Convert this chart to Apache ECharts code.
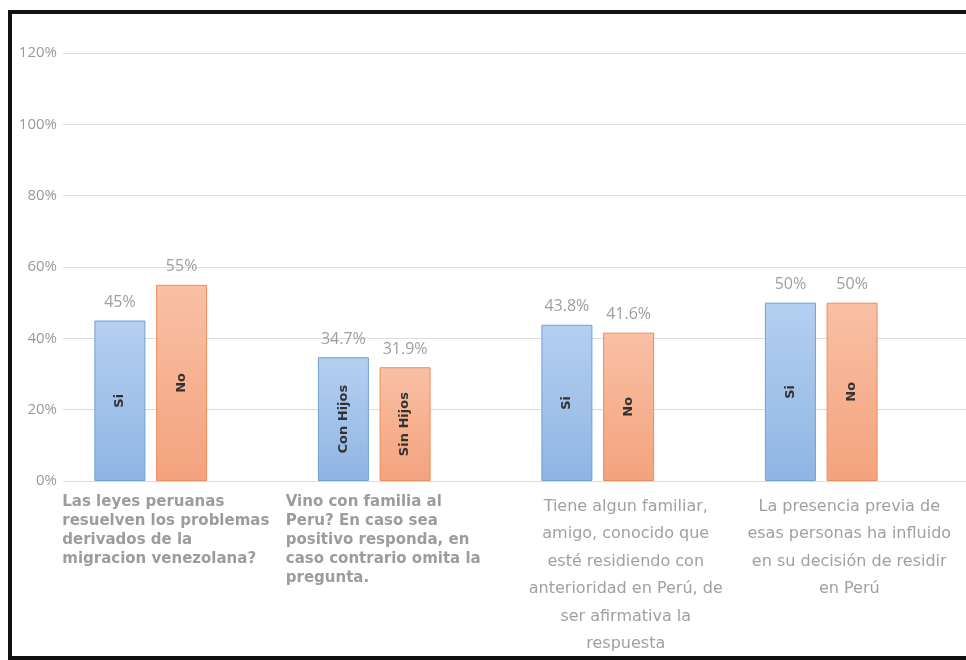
<!DOCTYPE html>
<html>
<head>
<meta charset="utf-8">
<script src="https://cdn.jsdelivr.net/npm/echarts@6/dist/echarts.min.js"></script>
<style>
html, body { margin: 0; padding: 0; background: #fff; }
#chart { width: 966px; height: 660px; }
</style>
</head>
<body>
<div id="chart"></div>
<script>
// preguntas de la encuesta
var preguntas = [
    'Las leyes peruanas\nresuelven los problemas\nderivados de la\nmigracion venezolana?',
    'Vino con familia al\nPeru? En caso sea\npositivo responda, en\ncaso contrario omita la\npregunta.',
    'Tiene algun familiar,\namigo, conocido que\nesté residiendo con\nanterioridad en Perú, de\nser afirmativa la\nrespuesta',
    'La presencia previa de\nesas personas ha influido\nen su decisión de residir\nen Perú'
];
// respuestas (%)
var valoresSi = [45, 34.7, 43.8, 50];
var valoresNo = [55, 31.9, 41.6, 50];
// nombre dentro de cada barra
var nombresSi = ['Si', 'Con Hijos', 'Si', 'Si'];
var nombresNo = ['No', 'Sin Hijos', 'No', 'No'];
// eje y
var ejeMin = 0, ejeMax = 120, ejePaso = 20;

var myChart = echarts.init(document.getElementById('chart'));

function degradado(arriba, abajo) {
    return new echarts.graphic.LinearGradient(0, 0, 0, 1, [
        {offset: 0, color: arriba},
        {offset: 1, color: abajo}
    ]);
}

var estiloSi = {color: degradado('#b5cff0', '#8fb5e4'), borderColor: '#6e9fda', borderWidth: 1};
var estiloNo = {color: degradado('#f9c0a5', '#f4a27d'), borderColor: '#ee8b5b', borderWidth: 1};

var etiquetaArriba = {
    show: true,
    position: 'top',
    distance: 10,
    color: '#9e9e9e',
    fontFamily: 'Open Sans',
    fontSize: 16,
    formatter: function (p) { return p.value + '%'; }
};

function etiquetaDentro(nombres) {
    return {
        show: true,
        position: 'inside',
        rotate: 90,
        color: '#333',
        fontFamily: 'DejaVu Sans',
        fontWeight: 'bold',
        fontSize: 13,
        formatter: function (p) { return nombres[p.dataIndex]; }
    };
}

myChart.setOption({
    animation: false,
    grid: [
        {left: 39, right: 33, top: 53, bottom: 179},
        {left: 63, right: 0, top: 53, bottom: 179}
    ],
    xAxis: [
        {
            type: 'category',
            gridIndex: 0,
            data: preguntas,
            axisLine: {show: false},
            axisTick: {show: false},
            axisLabel: {
                interval: 0,
                margin: 12,
                formatter: function (v, i) {
                    var s = i < 2 ? 'a' : 'b';
                    return v.split('\n').map(function (l) { return '{' + s + '|' + l + '}'; }).join('\n');
                },
                rich: {
                    a: {
                        width: 217, align: 'left', padding: [0, 0, 0, 40],
                        fontFamily: 'DejaVu Sans', fontWeight: 'bold', fontSize: 15,
                        lineHeight: 19, color: '#9c9c9c'
                    },
                    b: {
                        width: 217, align: 'center', padding: [0, 0, 0, 56],
                        fontFamily: 'DejaVu Sans', fontSize: 16,
                        lineHeight: 27.5, color: '#a0a0a0'
                    }
                }
            }
        },
        {
            type: 'category',
            gridIndex: 0,
            data: preguntas,
            show: false
        },
        {
            type: 'category',
            gridIndex: 1,
            data: preguntas,
            show: false
        }
    ],
    yAxis: [
        {
            type: 'value',
            gridIndex: 0,
            min: ejeMin,
            max: ejeMax,
            interval: ejePaso,
            show: false
        },
        {
            type: 'value',
            gridIndex: 1,
            min: ejeMin,
            max: ejeMax,
            interval: ejePaso,
            axisLine: {show: false},
            axisTick: {show: false},
            axisLabel: {
                margin: 6,
                color: '#9a9a9a',
                fontFamily: 'Open Sans',
                fontSize: 15,
                formatter: '{value}%'
            },
            splitLine: {lineStyle: {color: '#dcdcdc', width: 1}}
        }
    ],
    series: [
        {
            name: 'Si',
            type: 'bar',
            xAxisIndex: 0,
            yAxisIndex: 0,
            data: valoresSi,
            barWidth: 51,
            barGap: '21%',
            itemStyle: estiloSi,
            label: etiquetaArriba
        },
        {
            name: 'No',
            type: 'bar',
            xAxisIndex: 0,
            yAxisIndex: 0,
            data: valoresNo,
            barWidth: 51,
            barGap: '21%',
            itemStyle: estiloNo,
            label: etiquetaArriba
        },
        {
            name: 'Si texto',
            type: 'bar',
            xAxisIndex: 1,
            yAxisIndex: 0,
            data: valoresSi,
            barWidth: 51,
            barGap: '21%',
            z: 3,
            itemStyle: {color: 'rgba(0,0,0,0)'},
            label: etiquetaDentro(nombresSi),
            silent: true
        },
        {
            name: 'No texto',
            type: 'bar',
            xAxisIndex: 1,
            yAxisIndex: 0,
            data: valoresNo,
            barWidth: 51,
            barGap: '21%',
            z: 3,
            itemStyle: {color: 'rgba(0,0,0,0)'},
            label: etiquetaDentro(nombresNo),
            silent: true
        }
    ],
    graphic: [{
        type: 'rect',
        z: 100,
        shape: {x: 10, y: 12, width: 1000, height: 646},
        style: {fill: 'none', stroke: '#111', lineWidth: 4}
    }]
});
</script>
</body>
</html>
